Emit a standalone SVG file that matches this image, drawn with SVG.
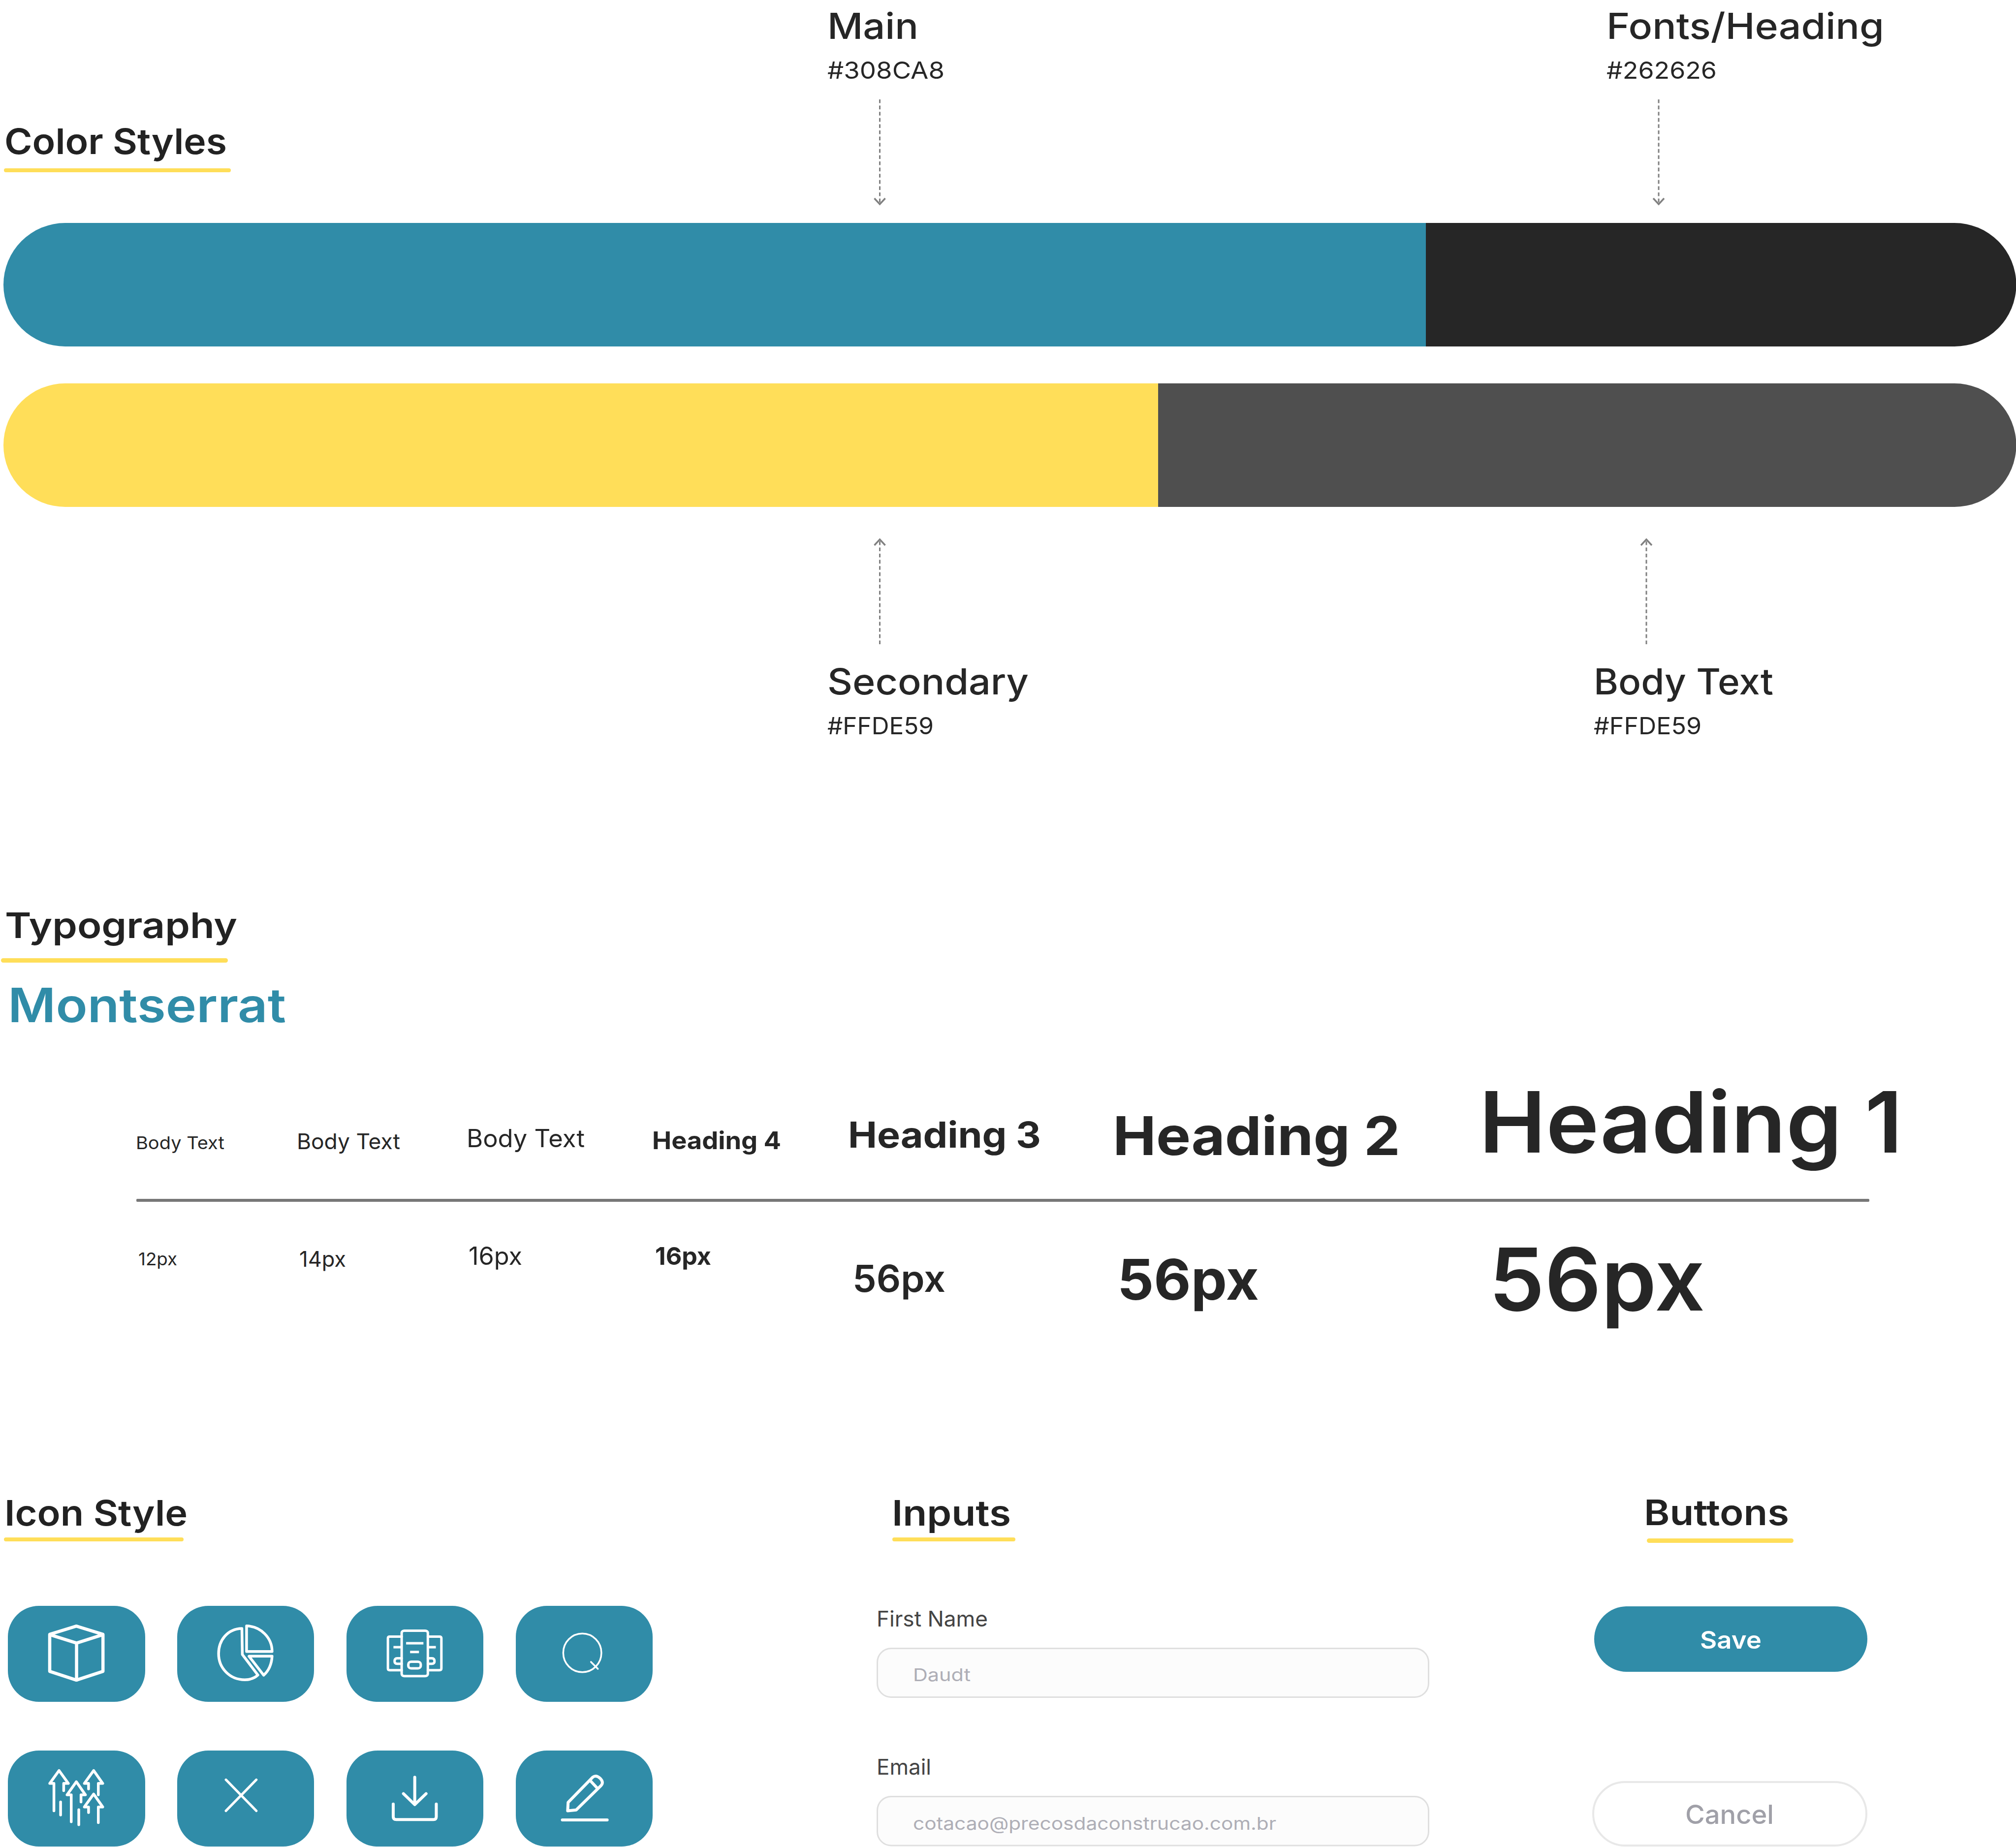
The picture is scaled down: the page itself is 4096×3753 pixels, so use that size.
<svg xmlns="http://www.w3.org/2000/svg" width="4096" height="3753" viewBox="0 0 4096 3753">
<defs>
<style>
text{font-family:"Inter","Liberation Sans",sans-serif;fill:#262626}
.lb{font-size:73px;font-weight:500}
.hx{font-size:48px;font-weight:400}
.ttl{font-size:72px;font-weight:600;fill:#222}
.ul{fill:#FFDE59}
.t{fill:#308CA8}
.inp{fill:#FCFCFC;stroke:#DFDFDF;stroke-width:3}
.lab{font-size:44px;font-weight:400;fill:#444}
.ph{font-size:36px;font-weight:400;fill:#AEAEB6}
.dash{stroke:#808080;stroke-width:3;stroke-dasharray:7.6 5;fill:none}
.ic{fill:none;stroke:#fff;stroke-linecap:round;stroke-linejoin:round;vector-effect:non-scaling-stroke}
.ic *{fill:none;stroke:#fff;stroke-linecap:round;stroke-linejoin:round;vector-effect:non-scaling-stroke}
</style>
<marker id="chev" markerUnits="userSpaceOnUse" viewBox="-15 -14 18 28" refX="0" refY="0" markerWidth="18" markerHeight="28" orient="auto">
<path d="M-12,-11 L0,0 L-12,11" fill="none" stroke="#808080" stroke-width="3.5"/>
</marker>
</defs>
<rect width="4096" height="3753" fill="#fff"/>

<g id="color-styles">
<text class="ttl" x="9" y="313" textLength="452" lengthAdjust="spacingAndGlyphs">Color Styles</text>
<rect class="ul" x="8" y="342" width="461" height="8" rx="4"/>
</g>
<g id="bar-main">
<path d="M2897,453 H132.500 A125.500,125.500 0 0 0 132.500,704 H2897 Z" fill="#308CA8"/>
</g>
<g id="bar-heading">
<path d="M2897,453 H3971 A125.500,125.500 0 0 1 3971,704 H2897 Z" fill="#262626"/>
</g>
<g id="bar-secondary">
<path d="M2353,779 H132.500 A125.500,125.500 0 0 0 132.500,1030 H2353 Z" fill="#FFDE59"/>
</g>
<g id="bar-body">
<path d="M2353,779 H3971 A125.500,125.500 0 0 1 3971,1030 H2353 Z" fill="#4F4F4F"/>
</g>

<g id="label-main">
<text class="lb" x="1681" y="79" textLength="185" lengthAdjust="spacingAndGlyphs">Main</text>
<text class="hx" x="1681" y="160" textLength="238" lengthAdjust="spacingAndGlyphs">#308CA8</text>
</g>
<g id="label-heading">
<text class="lb" x="3264" y="79" textLength="564" lengthAdjust="spacingAndGlyphs">Fonts/Heading</text>
<text class="hx" x="3264" y="160" textLength="224" lengthAdjust="spacingAndGlyphs">#262626</text>
</g>
<g id="label-secondary">
<text class="lb" x="1681" y="1411" textLength="409" lengthAdjust="spacingAndGlyphs">Secondary</text>
<text class="hx" x="1681" y="1492" textLength="216" lengthAdjust="spacingAndGlyphs">#FFDE59</text>
</g>
<g id="label-body">
<text class="lb" x="3238" y="1411" textLength="365" lengthAdjust="spacingAndGlyphs">Body Text</text>
<text class="hx" x="3238" y="1492" textLength="219" lengthAdjust="spacingAndGlyphs">#FFDE59</text>
</g>

<g id="connectors">
<line class="dash" x1="1787.500" y1="202" x2="1787.500" y2="415" marker-end="url(#chev)"/>
<line class="dash" x1="3370" y1="202" x2="3370" y2="415" marker-end="url(#chev)"/>
<line class="dash" x1="1787.500" y1="1309" x2="1787.500" y2="1096" marker-end="url(#chev)"/>
<line class="dash" x1="3345" y1="1309" x2="3345" y2="1096" marker-end="url(#chev)"/>
</g>

<g id="typography">
<text class="ttl" x="10" y="1906" textLength="472" lengthAdjust="spacingAndGlyphs">Typography</text>
<rect class="ul" x="2" y="1947" width="461" height="9" rx="4.500"/>
<text x="16" y="2077" font-size="96" font-weight="600" style="fill:#308CA8" textLength="565" lengthAdjust="spacingAndGlyphs">Montserrat</text>
<text x="276" y="2335" font-size="36" textLength="180" lengthAdjust="spacingAndGlyphs">Body Text</text>
<text x="603" y="2335" font-size="44" textLength="210" lengthAdjust="spacingAndGlyphs">Body Text</text>
<text x="948" y="2331" font-size="50" textLength="240" lengthAdjust="spacingAndGlyphs">Body Text</text>
<text x="1325" y="2335" font-size="50" font-weight="700" textLength="262" lengthAdjust="spacingAndGlyphs">Heading 4</text>
<text x="1723" y="2332" font-size="73" font-weight="700" textLength="392" lengthAdjust="spacingAndGlyphs">Heading 3</text>
<text x="2261" y="2347" font-size="108" font-weight="700" textLength="584" lengthAdjust="spacingAndGlyphs">Heading 2</text>
<text x="3005" y="2342" font-size="172" font-weight="600" textLength="861" lengthAdjust="spacingAndGlyphs">Heading 1</text>
<rect x="277" y="2436" width="3521" height="6" rx="2" fill="#777"/>
<text x="281" y="2571" font-size="36" textLength="79" lengthAdjust="spacingAndGlyphs">12px</text>
<text x="608" y="2574" font-size="44" textLength="95" lengthAdjust="spacingAndGlyphs">14px</text>
<text x="952" y="2570" font-size="50" textLength="109" lengthAdjust="spacingAndGlyphs">16px</text>
<text x="1331" y="2570" font-size="50" font-weight="700" textLength="114" lengthAdjust="spacingAndGlyphs">16px</text>
<text x="1732" y="2625" font-size="75" font-weight="600" textLength="189" lengthAdjust="spacingAndGlyphs">56px</text>
<text x="2270" y="2641" font-size="114" font-weight="700" textLength="288" lengthAdjust="spacingAndGlyphs">56px</text>
<text x="3025" y="2663" font-size="176" font-weight="600" textLength="439" lengthAdjust="spacingAndGlyphs">56px</text>
</g>

<g id="icon-style">
<text class="ttl" x="9" y="3100" textLength="372" lengthAdjust="spacingAndGlyphs">Icon Style</text>
<rect class="ul" x="8" y="3124" width="365" height="8" rx="4"/>
</g>

<g id="icon-cube">
<rect class="t" x="16" y="3263" width="279" height="195" rx="63" ry="63"/>
<g class="ic" transform="translate(0,3220.200) scale(.4509,.3415)" style="stroke-width:6.500px">
<path d="M344,246 L464,295 V515 L344,567 L224,515 V295 Z"/>
<path d="M225,297 L345,347 L463,297 M345,347 V567"/>
</g>
</g>
<g id="icon-pie">
<rect class="t" x="360" y="3263" width="278" height="195" rx="63" ry="63"/>
<g class="ic" transform="translate(0,3220.200) scale(.4509,.3415)" style="stroke-width:5.500px">
<path d="M1090,260 C1025,262 985,330 985,410 C985,495 1035,565 1103,565 C1130,565 1148,555 1162,537 L1092,415 Z"/>
<path d="M1111,245 V397 H1226 C1226,315 1175,247 1111,245 Z"/>
<path d="M1122,425 H1226 C1224,470 1212,510 1188,538 Z"/>
</g>
</g>
<g id="icon-book">
<rect class="t" x="704" y="3263" width="278" height="195" rx="63" ry="63"/>
<g class="ic" transform="translate(675.400,3220.200) scale(.4509,.3415)" style="stroke-width:5px">
<rect x="312" y="273" width="118" height="270" rx="12"/>
<path d="M312,308 H258 Q250,308 250,318 V498 Q250,508 258,508 H312"/>
<path d="M430,308 H482 Q491,308 491,318 V498 Q491,508 482,508 H430"/>
<path d="M332,348 H410 M350,400 H390 M275,371 H312 M430,371 H466" style="stroke-linecap:butt"/>
<rect x="342" y="458" width="56" height="39" rx="14"/>
<path d="M312,437 H292 Q280,437 280,455 Q280,470 292,470 H312"/>
<path d="M430,437 H448 Q460,437 460,455 Q460,470 448,470 H430"/>
</g>
</g>
<g id="icon-search">
<rect class="t" x="1048" y="3263" width="278" height="195" rx="63" ry="63"/>
<g class="ic" transform="translate(675.400,3220.200) scale(.4509,.3415)" style="stroke-width:3.500px">
<ellipse cx="1126" cy="405" rx="86" ry="115"/>
<path d="M1165,459 L1196,500"/>
</g>
</g>
<g id="icon-arrows">
<rect class="t" x="16" y="3557" width="279" height="195" rx="63" ry="63"/>
<g class="ic" transform="translate(0,3220.200) scale(.4509,.3415)" style="stroke-width:5.500px">
<path d="M243,1345 V1182 H224 L266,1105 L308,1182 H287 V1225"/>
<path d="M399,1215 V1182 H380 L422,1105 L463,1182 H443 V1250"/>
<path d="M321,1410 V1250 H302 L344,1172 L385,1250 H365 V1292"/>
<path d="M399,1355 V1322 H380 L422,1245 L463,1322 H443 V1415"/>
<path d="M273,1292 V1370 M355,1338 V1428"/>
</g>
</g>
<g id="icon-close">
<rect class="t" x="360" y="3557" width="278" height="195" rx="63" ry="63"/>
<g class="ic" transform="translate(0,3220.200) scale(.4509,.3415)" style="stroke-width:5px">
<path d="M1018,1160 L1155,1345 M1155,1160 L1018,1345"/>
</g>
</g>
<g id="icon-download">
<rect class="t" x="704" y="3557" width="278" height="195" rx="63" ry="63"/>
<g class="ic" transform="translate(675.400,3220.200) scale(.4509,.3415)" style="stroke-width:6px">
<path d="M371,1145 V1305 M320,1243 L371,1308 L422,1243"/>
<path d="M274,1305 V1380 Q274,1397 288,1397 H455 Q468,1397 468,1380 V1305"/>
</g>
</g>
<g id="icon-edit">
<rect class="t" x="1048" y="3557" width="278" height="195" rx="63" ry="63"/>
<g class="ic" transform="translate(675.400,3220.200) scale(.4509,.3415)" style="stroke-width:6px">
<path d="M1062,1295 L1173,1145 Q1188,1130 1205,1150 Q1225,1175 1210,1195 L1098,1340 L1060,1345 Z"/>
<path d="M1165,1170 L1192,1208"/>
<path d="M1036,1399 H1238"/>
</g>
</g>

<g id="inputs-title">
<text class="ttl" x="1812" y="3100" textLength="242" lengthAdjust="spacingAndGlyphs">Inputs</text>
<rect class="ul" x="1813" y="3124" width="250" height="8" rx="4"/>
</g>
<g id="input-first-name">
<text class="lab" x="1781" y="3305" textLength="226" lengthAdjust="spacingAndGlyphs">First Name</text>
<rect class="inp" x="1782.500" y="3349.500" width="1120" height="99" rx="28"/>
<text class="ph" x="1855" y="3416" textLength="117" lengthAdjust="spacingAndGlyphs">Daudt</text>
</g>
<g id="input-email">
<text class="lab" x="1781" y="3606" textLength="111" lengthAdjust="spacingAndGlyphs">Email</text>
<rect class="inp" x="1782.500" y="3650.500" width="1120" height="99.500" rx="28"/>
<text class="ph" x="1855" y="3718" textLength="738" lengthAdjust="spacingAndGlyphs">cotacao@precosdaconstrucao.com.br</text>
</g>

<g id="buttons-title">
<text class="ttl" x="3340" y="3099" textLength="295" lengthAdjust="spacingAndGlyphs">Buttons</text>
<rect class="ul" x="3346" y="3126" width="298" height="9" rx="4.500"/>
</g>
<g id="button-save">
<rect class="t" x="3239" y="3264" width="555" height="133" rx="66.500"/>
<text x="3454" y="3350" font-size="49" font-weight="600" style="fill:#fff" textLength="125" lengthAdjust="spacingAndGlyphs">Save</text>
</g>
<g id="button-cancel">
<rect x="3237" y="3621" width="555" height="129" rx="64.500" fill="#fff" stroke="#E8E8E8" stroke-width="4"/>
<text x="3424" y="3706" font-size="53" font-weight="500" style="fill:#A0A0A8" textLength="180" lengthAdjust="spacingAndGlyphs">Cancel</text>
</g>
</svg>
